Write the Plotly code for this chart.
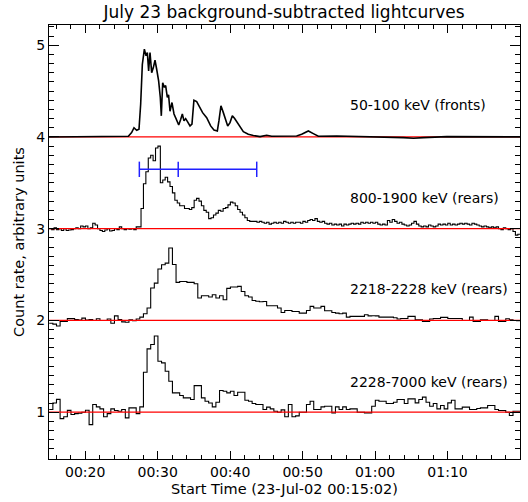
import numpy as np
import plotly.graph_objects as go

title_text = "July 23 background-subtracted lightcurves"
x_title = "Start Time (23-Jul-02 00:15:02)"
y_title = "Count rate, arbitrary units"
band_labels = ["50-100 keV (fronts)", "800-1900 keV (rears)",
               "2218-2228 keV (rears)", "2228-7000 keV (rears)"]
label_levels = [4.344, 3.336, 2.34, 1.332]
baselines = [4, 3, 2, 1]
start_time = "2002-07-23T00:15:02"
day0 = "2002-07-23T00:00:00"

# 50-100 keV fronts: minutes after 00:00 and values
fronts_min = [15.0, 18.0, 21.0, 24.0, 25.95, 26.4, 26.73, 27.1, 27.42, 27.65, 27.88, 28.16,
              28.39, 28.57, 28.75, 28.94, 29.17, 29.4, 29.63, 29.86, 30.13, 30.36, 30.5,
              30.69, 30.92, 31.1, 31.33, 31.5, 31.7, 31.97, 32.25, 32.53, 32.9, 33.17, 33.4,
              33.63, 33.86, 34.09, 34.46, 34.73, 35.0, 35.38, 35.74, 36.2, 36.76, 37.31,
              37.77, 38.23, 38.46, 38.73, 39.06, 39.38, 39.66, 39.98, 40.3, 40.62, 40.99,
              41.36, 41.82, 42.5, 43.2, 44.12, 45.04, 45.73, 48.72, 49.18, 49.87, 50.79,
              51.48, 52.17, 54.7, 60.7, 63.9, 65.3, 66.66, 69.9, 75.0, 80.0]
fronts_val = [4.0, 4.002, 3.999, 4.001, 4.007, 4.047, 4.10, 4.073, 4.084, 4.356, 4.79, 4.956,
              4.884, 4.92, 4.72, 4.92, 4.70, 4.756, 4.836, 4.738, 4.61, 4.43, 4.23,
              4.59, 4.54, 4.56, 4.43, 4.46, 4.28, 4.375, 4.25, 4.20, 4.13, 4.19, 4.25,
              4.175, 4.20, 4.17, 4.12, 4.14, 4.40, 4.385, 4.327, 4.265, 4.21, 4.12,
              4.076, 4.065, 4.18, 4.34, 4.265, 4.175, 4.12, 4.156, 4.23, 4.20, 4.156,
              4.10, 4.058, 4.03, 4.015, 4.004, 4.018, 4.007, 4.007, 4.01, 4.03, 4.065,
              4.036, 4.007, 4.01, 4.004, 3.993, 3.985, 3.993, 4.003, 4.002, 4.0]

# 800-1900 keV rears, 20 s bins from 00:15:02
rears_800_1900 = [
    3.00, 2.99, 3.01, 2.99, 3.00, 2.98, 3.00, 2.98, 2.985, 2.99, 3.00, 3.01, 3.00,
    3.03, 3.02, 3.03, 3.00, 3.01, 3.06, 3.04, 3.00, 2.98, 2.97, 2.985, 3.00, 2.975,
    2.98, 3.00, 2.99, 3.02, 3.00, 2.99, 3.00, 2.995, 3.00, 2.99, 3.02, 3.02,
    3.22, 3.49, 3.62, 3.77, 3.80, 3.74, 3.88, 3.90, 3.50, 3.53, 3.56, 3.51, 3.46,
    3.39, 3.31, 3.28, 3.25, 3.25, 3.22, 3.22, 3.21, 3.23, 3.31, 3.33, 3.30, 3.25,
    3.20, 3.18, 3.11, 3.12, 3.15, 3.17, 3.20, 3.19, 3.22, 3.23, 3.26, 3.29, 3.28,
    3.25, 3.21, 3.18, 3.15, 3.12, 3.09, 3.08, 3.08,
    3.08, 3.07, 3.08, 3.07, 3.06, 3.07, 3.05, 3.06, 3.07, 3.06, 3.07, 3.06,
    3.08, 3.07, 3.06, 3.07, 3.06, 3.07, 3.07, 3.06, 3.08, 3.07, 3.09, 3.10,
    3.09, 3.11, 3.08, 3.07, 3.08, 3.06, 3.05, 3.06, 3.04, 3.05, 3.04, 3.05,
    3.03, 3.05, 3.04, 3.05, 3.06, 3.05, 3.06, 3.05, 3.07, 3.06, 3.07, 3.06,
    3.07, 3.06, 3.07, 3.05, 3.04, 3.05, 3.04, 3.09, 3.07, 3.10, 3.08, 3.06,
    3.07, 3.05, 3.04, 3.03, 3.04, 3.06, 3.08, 3.05, 3.03, 3.02, 3.03, 3.02,
    3.04, 3.03, 3.02, 3.03, 3.05, 3.04, 3.05, 3.04, 3.06, 3.04, 3.05, 3.04,
    3.05, 3.06, 3.05, 3.06, 3.05, 3.04, 3.06, 3.05, 3.04, 3.03, 3.02, 3.03,
    3.02, 3.01, 3.02, 3.01, 3.02, 3.00, 2.99, 3.01, 3.00, 2.99, 3.00, 2.97,
    2.93, 2.94]

# 2218-2228 keV rears, 30 s bins
rears_2218_2228 = [
    1.97, 1.96, 1.94, 1.99, 1.99, 2.02, 2.02, 2.01, 2.005, 2.025, 2.005, 2.01, 2.0,
    2.018, 2.0, 2.0, 2.015, 1.97, 2.05, 2.01, 1.985, 1.98, 2.007, 1.996, 2.015,
    2.036, 2.073, 2.135, 2.353, 2.407, 2.56, 2.607, 2.625, 2.79, 2.61, 2.415, 2.425,
    2.425, 2.415, 2.415, 2.40, 2.244, 2.27, 2.269, 2.255, 2.28, 2.244, 2.27, 2.225,
    2.35, 2.364, 2.364, 2.371, 2.316, 2.269, 2.255, 2.218, 2.21, 2.204, 2.207, 2.16,
    2.16, 2.16, 2.135, 2.087, 2.109, 2.109, 2.098, 2.098, 2.08, 2.08, 2.109, 2.153,
    2.135, 2.135, 2.153, 2.105, 2.105, 2.087, 2.08, 2.073, 2.08, 2.036, 2.044, 2.044,
    2.044, 2.044, 2.062, 2.05, 2.051, 2.05, 2.036, 2.036, 2.036, 2.036, 2.03, 2.015,
    2.022, 2.022, 2.044, 2.044, 2.007, 2.007, 1.99, 1.99, 2.015, 2.022, 2.022, 2.033,
    2.033, 2.022, 2.022, 2.022, 2.022, 2.0, 2.0, 2.036, 1.99, 1.99, 2.007, 2.007,
    2.0, 2.0, 2.044, 1.99, 1.99, 2.018, 2.007, 2.0, 1.996]

# 2228-7000 keV rears, 30 s bins
rears_2228_7000 = [
    1.03, 1.10, 1.14, 0.93, 0.95, 1.02, 0.975, 0.985, 0.99, 1.0, 1.022, 0.865, 1.084,
    1.058, 1.036, 0.95, 0.985, 1.036, 1.018, 1.011, 1.029, 0.938, 1.047, 1.047, 0.985,
    1.058, 1.436, 1.69, 1.738, 1.83, 1.556, 1.538, 1.447, 1.338, 1.211, 1.211, 1.182,
    1.156, 1.156, 1.138, 1.29, 1.29, 1.156, 1.12, 1.10, 1.058, 1.109, 1.236, 1.229,
    1.211, 1.229, 1.182, 1.218, 1.218, 1.131, 1.12, 1.095, 1.084, 1.084, 1.029, 1.055,
    1.036, 1.011, 1.0, 1.025, 0.95, 1.084, 0.95, 0.96, 1.0, 1.0, 1.084, 1.12, 1.029,
    1.029, 1.058, 1.065, 1.065, 0.993, 1.058, 1.029, 1.058, 1.029, 1.036, 1.036, 1.0,
    1.0, 0.993, 0.993, 1.065, 1.131, 1.12, 1.12, 1.095, 1.095, 1.109, 1.138, 1.138,
    1.095, 1.145, 1.145, 1.102, 1.138, 1.164, 1.109, 1.065, 1.095, 1.036, 1.073, 1.036,
    1.102, 1.131, 1.036, 1.036, 1.055, 1.055, 1.029, 1.029, 1.04, 1.047, 1.047, 1.073,
    1.073, 1.029, 1.018, 1.018, 1.0, 0.964, 1.011, 1.011]

# horizontal timing bar on the 800-1900 keV curve
bar_times = ["2002-07-23 00:27:28", "2002-07-23 00:32:50", "2002-07-23 00:43:40"]
bar_level = 3.647
label_time = "2002-07-23 00:56:16"
x_range = ["2002-07-23 00:15:00", "2002-07-23 01:20:00"]
y_range = [0.49, 5.22]


def step_xy(vals, dt_s):
    t0 = np.datetime64(start_time)
    edges = t0 + np.arange(len(vals) + 1) * np.timedelta64(dt_s, "s")
    return list(np.datetime_as_string(edges, unit="s")), list(vals) + [vals[-1]]


fig = go.Figure()
for vals, dt in [(rears_800_1900, 20), (rears_2218_2228, 30), (rears_2228_7000, 30)]:
    x, y = step_xy(vals, dt)
    fig.add_trace(go.Scatter(x=x, y=y, mode="lines", line=dict(color="black", width=1.1, shape="hv"),
                             showlegend=False, hoverinfo="skip"))

for b in baselines:
    fig.add_trace(go.Scatter(x=x_range, y=[b, b], mode="lines", line=dict(color="#ff0000", width=1.2),
                             showlegend=False, hoverinfo="skip"))

fx = np.datetime64(day0) + (np.array(fronts_min) * 60000).round().astype("int64") * np.timedelta64(1, "ms")
fig.add_trace(go.Scatter(x=list(np.datetime_as_string(fx, unit="ms")), y=fronts_val, mode="lines",
                         line=dict(color="black", width=1.6), showlegend=False, hoverinfo="skip"))

fig.add_trace(go.Scatter(x=bar_times, y=[bar_level] * len(bar_times), mode="lines+markers",
                         line=dict(color="#2020ff", width=1.5),
                         marker=dict(symbol="line-ns", size=11, line=dict(color="#2020ff", width=1.5)),
                         showlegend=False, hoverinfo="skip"))

for lab, lev in zip(band_labels, label_levels):
    fig.add_annotation(x=label_time, y=lev, text=lab, showarrow=False, xanchor="left", yanchor="middle",
                       font=dict(family="DejaVu Sans", size=14, color="black"))

axis_common = dict(showline=True, linecolor="black", linewidth=1, mirror="allticks", ticks="inside",
                   tickcolor="black", showgrid=False, zeroline=False,
                   tickfont=dict(family="DejaVu Sans", size=14, color="black"))

fig.update_layout(
    width=528, height=502,
    margin=dict(l=49, r=8, t=25, b=43),
    paper_bgcolor="white", plot_bgcolor="white",
    hovermode=False,
    title=dict(text=title_text, x=0.538, xanchor="center", y=0.976, yanchor="middle",
               font=dict(family="DejaVu Sans", size=17, color="black")),
    xaxis=dict(type="date", range=x_range, tickformat="%H:%M", dtick=600000,
               tick0="2002-07-23 00:00:00", ticklen=8,
               minor=dict(dtick=120000, ticklen=4, ticks="inside", tickcolor="black", showgrid=False),
               title=dict(text=x_title, font=dict(family="DejaVu Sans", size=14.5, color="black"), standoff=5),
               **axis_common),
    yaxis=dict(range=y_range, dtick=1, tick0=0, ticklen=10,
               minor=dict(dtick=0.1, ticklen=5, ticks="inside", tickcolor="black", showgrid=False),
               title=dict(text=y_title, font=dict(family="DejaVu Sans", size=14.5, color="black"), standoff=8),
               **axis_common),
)

fig.write_html("out.html", config={"displayModeBar": False},
               post_script="document.body.style.margin='0px';document.body.style.overflow='hidden';")
